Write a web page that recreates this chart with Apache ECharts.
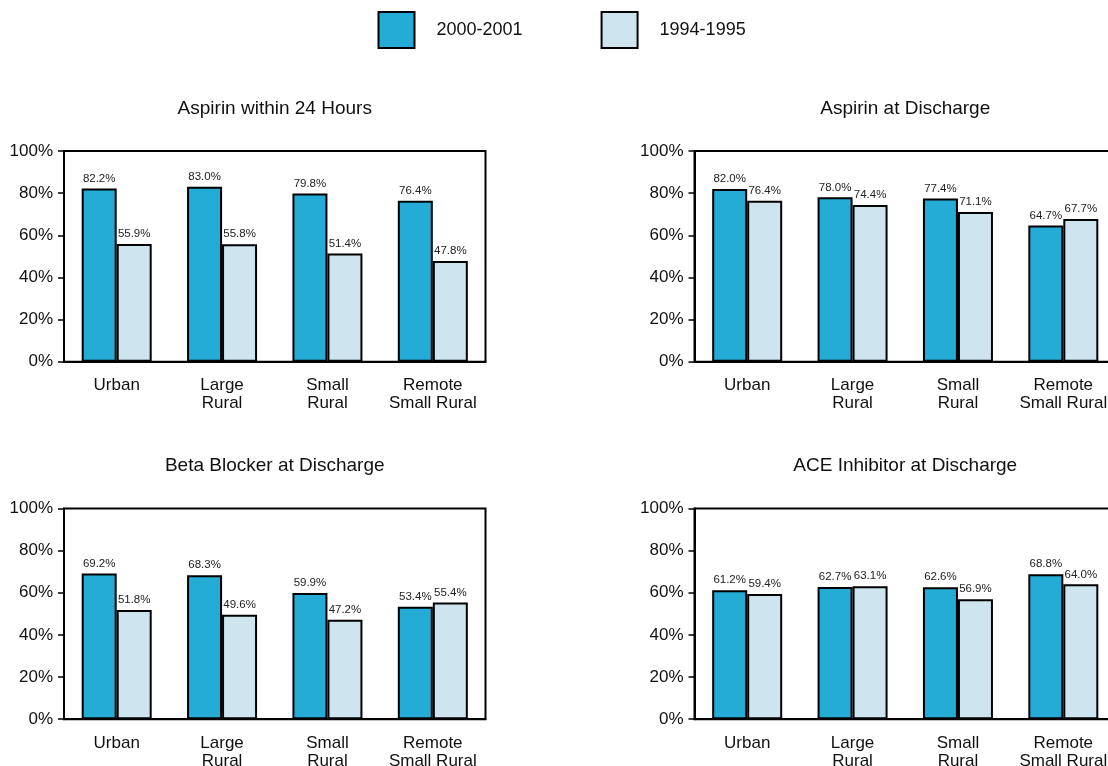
<!DOCTYPE html>
<html>
<head>
<meta charset="utf-8">
<script src="https://cdn.jsdelivr.net/npm/echarts@6/dist/echarts.min.js"></script>
<style>
  html, body { margin: 0; padding: 0; background: #fff; overflow: hidden; }
  /* canvas is slightly wider than the window so the right-hand frames run past the edge */
  #chart { width: 1130px; height: 766px; }
</style>
</head>
<body>
<div id="chart"></div>
<script>
// Categories (community type) and legend periods
const categories = ['Urban', 'Large\nRural', 'Small\nRural', 'Remote\nSmall Rural'];
const periods = ['2000-2001', '1994-1995'];
const yTicks = [0, 20, 40, 60, 80, 100];

// Panel titles
const panelTitles = [
  'Aspirin within 24 Hours',
  'Aspirin at Discharge',
  'Beta Blocker at Discharge',
  'ACE Inhibitor at Discharge'
];

// Percent of patients receiving each treatment
const aspirin24h2000 = [82.2, 83.0, 79.8, 76.4];
const aspirin24h1994 = [55.9, 55.8, 51.4, 47.8];
const aspirinDischarge2000 = [82.0, 78.0, 77.4, 64.7];
const aspirinDischarge1994 = [76.4, 74.4, 71.1, 67.7];
const betaBlocker2000 = [69.2, 68.3, 59.9, 53.4];
const betaBlocker1994 = [51.8, 49.6, 47.2, 55.4];
const aceInhibitor2000 = [61.2, 62.7, 62.6, 68.8];
const aceInhibitor1994 = [59.4, 63.1, 56.9, 64.0];

const panelData = [
  [aspirin24h2000, aspirin24h1994],
  [aspirinDischarge2000, aspirinDischarge1994],
  [betaBlocker2000, betaBlocker1994],
  [aceInhibitor2000, aceInhibitor1994]
];

const FONT = "'Liberation Sans', Arial, sans-serif";
const COLORS = ['#24acd6', '#cee5ef'];

// Plot-area boxes for the 2x2 layout
const grids = [
  { left: 64,    top: 151,   width: 421.5, height: 210.7 },
  { left: 694.5, top: 151,   width: 421.5, height: 210.7 },
  { left: 64,    top: 508.5, width: 421.5, height: 210.7 },
  { left: 694.5, top: 508.5, width: 421.5, height: 210.7 }
];

const option = {
  animation: false,
  backgroundColor: '#fff',
  textStyle: { fontFamily: FONT },
  legend: {
    data: periods,
    left: 377.5,
    top: 11,
    padding: 0,
    itemWidth: 36,
    itemHeight: 36,
    itemGap: 78,
    icon: 'rect',
    selectedMode: false,
    textStyle: { fontFamily: FONT, fontSize: 18, color: '#111', padding: [0, 0, 0, 17] }
  },
  title: grids.map((g, i) => ({
    text: panelTitles[i],
    left: g.left + g.width / 2,
    top: g.top - 52,
    padding: 0,
    textAlign: 'center',
    textStyle: { fontFamily: FONT, fontSize: 19, fontWeight: 'normal', color: '#111' }
  })),
  grid: grids.map(g => ({
    left: g.left, top: g.top, width: g.width, height: g.height,
    show: true, borderColor: '#000', borderWidth: 2, backgroundColor: 'transparent',
    containLabel: false,
    outerBoundsMode: 'none'
  })),
  xAxis: grids.map((g, i) => ({
    type: 'category',
    gridIndex: i,
    data: categories,
    axisLine: { show: true, lineStyle: { color: '#000', width: 2 } },
    axisTick: { show: false },
    axisLabel: {
      fontFamily: FONT, fontSize: 17, color: '#111',
      margin: 15, lineHeight: 18, interval: 0, align: 'center'
    }
  })),
  yAxis: grids.map((g, i) => ({
    type: 'value',
    gridIndex: i,
    min: yTicks[0],
    max: yTicks[yTicks.length - 1],
    interval: 20,
    splitLine: { show: false },
    axisLine: { show: true, lineStyle: { color: '#000', width: 2 } },
    axisTick: { show: true, inside: false, length: 6, lineStyle: { color: '#000', width: 1.5 } },
    axisLabel: {
      fontFamily: FONT, fontSize: 17, color: '#111', margin: 11,
      formatter: '{value}%'
    }
  })),
  series: []
};

panelData.forEach((pair, i) => {
  pair.forEach((values, k) => {
    option.series.push({
      type: 'bar',
      name: periods[k],
      xAxisIndex: i,
      yAxisIndex: i,
      data: values,
      barWidth: 35,
      barGap: '0%',
      itemStyle: { color: COLORS[k], borderColor: '#000', borderWidth: 2 },
      label: {
        show: true,
        position: 'top',
        distance: 4,
        fontFamily: FONT,
        fontSize: 11.5,
        color: '#222',
        formatter: p => p.value.toFixed(1) + '%'
      }
    });
  });
});

const chart = echarts.init(document.getElementById('chart'), null, { renderer: 'canvas' });
chart.setOption(option);
</script>
</body>
</html>
